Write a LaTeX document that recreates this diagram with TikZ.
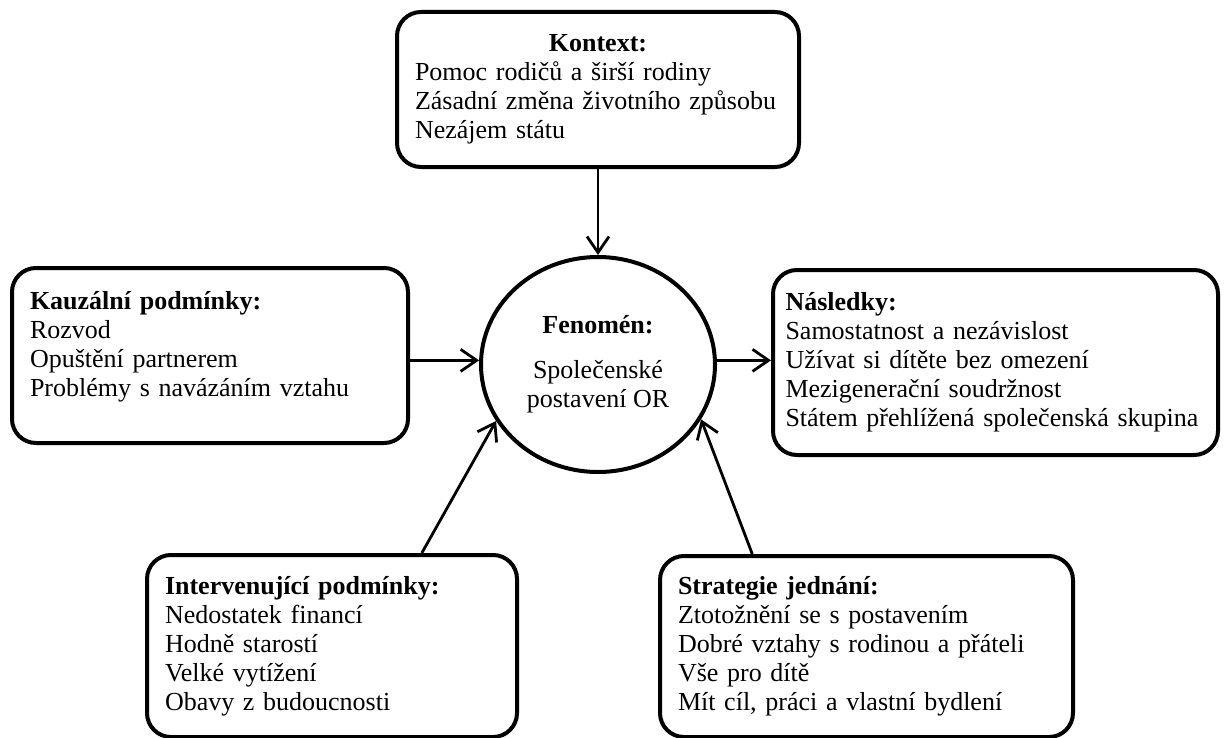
\documentclass[tikz,border=0pt]{standalone}
\usepackage{fontspec}
\setmainfont{Liberation Serif}
\usetikzlibrary{arrows.meta, positioning, shapes.geometric}

\begin{document}
\begin{tikzpicture}[
        x=0.5pt, y=-0.5pt,
        box/.style={
            draw,
            line width=2pt,
            rounded corners=12pt,
            inner xsep=9pt,
            align=left,
            font=\fontsize{13}{14.5}\selectfont
        },
        jev/.style={
            draw,
            ellipse,
            line width=2pt,
            minimum width=117pt,
            minimum height=107.5pt,
            align=center,
            font=\fontsize{13}{14.5}\selectfont
        },
        sipka/.style={
            line width=1.4pt,
            -{Straight Barb[length=8pt, width=11pt]}
        }
    ]
        \useasboundingbox (0,0) rectangle (1226,738);

        % jev uprostred
        \node[jev] (fen) at (598,364.5) {\textbf{Fenomén:}\\[8pt] Společenské\\ postavení OR};

        % kontext nahore
        \node[box, text width=183pt, minimum height=77.5pt] (kontext) at (598,89.5)
            {{\centering\textbf{Kontext:}\par}Pomoc rodičů a širší rodiny\\ Zásadní změna životního způsobu\\ Nezájem státu};

        % podminky a nasledky (vlevo, vpravo)
        \node[box, text width=180pt, minimum height=87.5pt] (kauz) at (210,355.5)
            {\textbf{Kauzální podmínky:}\\ Rozvod\\ Opuštění partnerem\\ Problémy s navázáním vztahu\\[-3pt] \mbox{}};
        \node[box, text width=210pt, inner xsep=6.25pt, minimum height=92.5pt] (nasl) at (995.5,362.5)
            {\textbf{Následky:}\\ Samostatnost a nezávislost\\ Užívat si dítěte bez omezení\\ Mezigenerační soudržnost\\ Státem přehlížená společenská skupina};

        % dole
        \node[box, text width=167pt, minimum height=91pt] (intv) at (332,646)
            {\textbf{Intervenující podmínky:}\\ Nedostatek financí\\ Hodně starostí\\ Velké vytížení\\ Obavy z budoucnosti};
        \node[box, text width=188.5pt, minimum height=90.5pt] (strat) at (866.5,646.5)
            {\textbf{Strategie jednání:}\\ Ztotožnění se s postavením\\ Dobré vztahy s rodinou a přáteli\\ Vše pro dítě\\ Mít cíl, práci a vlastní bydlení};

        % sipky
        \draw[sipka] (kontext.south) -- (fen.north);
        \draw[sipka] (fen.178 -| kauz.east) -- (fen.178);
        \draw[sipka] (fen.2) -- (fen.2 -| nasl.west);
        \draw[sipka] (intv.46) -- (fen.209);
        \draw[sipka] (strat.141) -- (fen.332);
    \end{tikzpicture}
\end{document}
